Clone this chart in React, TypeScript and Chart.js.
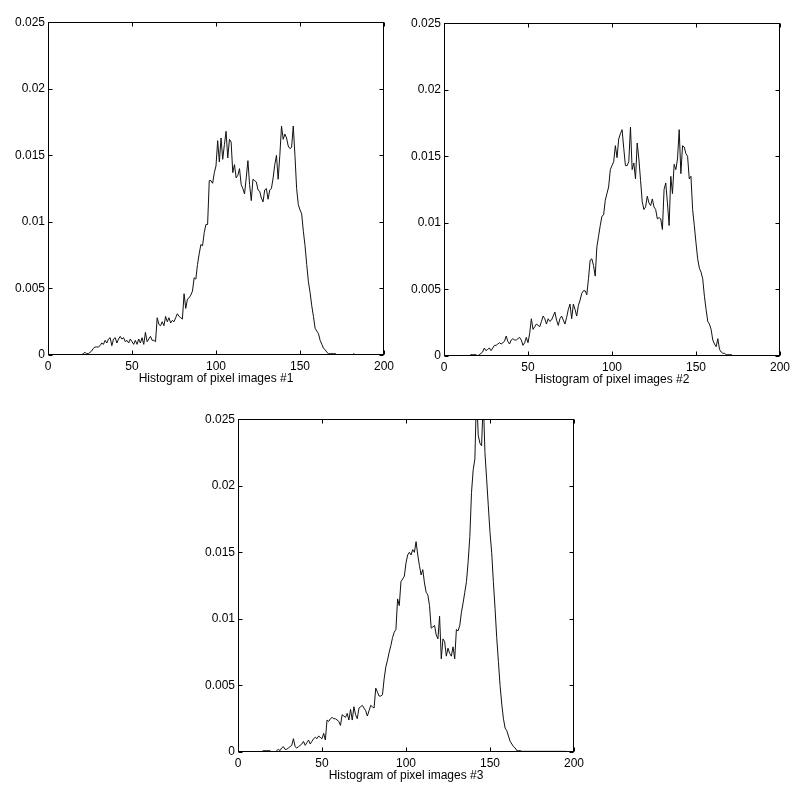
import React, { useEffect, useRef } from "react";
import { Chart, registerables } from "chart.js";
Chart.register(...registerables);

const X_TICKS = [0, 50, 100, 150, 200];
const Y_TICKS = [0, 0.005, 0.01, 0.015, 0.02, 0.025];
const X_MAX = 200;
const Y_MAX = 0.025;

const TITLES = [
  "Histogram of pixel images #1",
  "Histogram of pixel images #2",
  "Histogram of pixel images #3",
];

const hist1 = [
  0, 0, 0, 0, 0, 0, 0, 0, 0, 0,
  0, 0, 0, 0, 0, 0, 0, 0, 0, 0,
  0, 0.0001, 0.0002, 0.0001, 0.0001, 0.0002, 0.0003, 0.0005, 0.0006, 0.0006,
  0.0006, 0.0007, 0.0009, 0.0008, 0.0011, 0.0009, 0.0012, 0.0013, 0.0007, 0.0012,
  0.0013, 0.0009, 0.0012, 0.0014, 0.0012, 0.0013, 0.0010, 0.0011, 0.0009, 0.0012,
  0.0010, 0.0008, 0.0011, 0.0008, 0.0012, 0.0009, 0.0013, 0.0008, 0.0017, 0.0010,
  0.0012, 0.0014, 0.0011, 0.0011, 0.0010, 0.0028, 0.0023, 0.0022, 0.0025, 0.0022,
  0.0029, 0.0025, 0.0028, 0.0024, 0.0026, 0.0025, 0.0028, 0.0031, 0.0029, 0.0028,
  0.0027, 0.0046, 0.0035, 0.0042, 0.0043, 0.0045, 0.0048, 0.0058, 0.0057, 0.0068,
  0.0076, 0.0083, 0.0082, 0.0092, 0.0098, 0.0098, 0.0131, 0.0131, 0.0129, 0.0137,
  0.0142, 0.0161, 0.0145, 0.0163, 0.0147, 0.0158, 0.0168, 0.0148, 0.0162, 0.0160,
  0.0137, 0.0143, 0.0133, 0.0135, 0.0140, 0.0128, 0.0125, 0.0121, 0.0133, 0.0146,
  0.0128, 0.0116, 0.0132, 0.0131, 0.0130, 0.0124, 0.0123, 0.0118, 0.0115, 0.0124,
  0.0125, 0.0117, 0.0124, 0.0125, 0.0133, 0.0143, 0.0150, 0.0132, 0.0150, 0.0172,
  0.0162, 0.0166, 0.0163, 0.0157, 0.0155, 0.0156, 0.0172, 0.0150, 0.0125, 0.0113,
  0.0109, 0.0106, 0.0093, 0.0082, 0.0068, 0.0055, 0.0047, 0.0037, 0.0029, 0.0020,
  0.0018, 0.0016, 0.0011, 0.0008, 0.0005, 0.0004, 0.0002, 0.0001, 0.0001, 0.0001,
  0.0001, 0.0001, 0, 0, 0, 0, 0, 0, 0, 0,
  0, 0, 0.0001, 0, 0, 0, 0, 0, 0, 0,
  0, 0, 0, 0, 0, 0, 0, 0, 0, 0,
];

const hist2 = [
  0, 0, 0, 0, 0, 0, 0, 0, 0, 0,
  0, 0, 0, 0, 0, 0, 0.0001, 0.0001, 0.0001, 0.0001,
  0, 0.0001, 0.0002, 0.0003, 0.0006, 0.0004, 0.0005, 0.0006, 0.0004, 0.0006,
  0.0008, 0.0008, 0.0009, 0.0010, 0.0009, 0.0010, 0.0011, 0.0015, 0.0011, 0.0009,
  0.0012, 0.0013, 0.0012, 0.0012, 0.0013, 0.0014, 0.0012, 0.0008, 0.0010, 0.0014,
  0.0010, 0.0017, 0.0028, 0.0020, 0.0022, 0.0024, 0.0023, 0.0022, 0.0026, 0.0030,
  0.0028, 0.0024, 0.0028, 0.0026, 0.0027, 0.0030, 0.0033, 0.0027, 0.0023, 0.0028,
  0.0030, 0.0027, 0.0024, 0.0029, 0.0035, 0.0039, 0.0028, 0.0039, 0.0035, 0.0030,
  0.0038, 0.0042, 0.0047, 0.0049, 0.0049, 0.0046, 0.0058, 0.0072, 0.0073, 0.0068,
  0.0060, 0.0082, 0.0090, 0.0098, 0.0105, 0.0106, 0.0117, 0.0122, 0.0127, 0.0140,
  0.0143, 0.0146, 0.0158, 0.0149, 0.0163, 0.0167, 0.0170, 0.0156, 0.0143, 0.0143,
  0.0146, 0.0172, 0.0140, 0.0145, 0.0133, 0.0160, 0.0148, 0.0132, 0.0116, 0.0110,
  0.0112, 0.0120, 0.0115, 0.0113, 0.0118, 0.0112, 0.0110, 0.0103, 0.0104, 0.0103,
  0.0095, 0.0125, 0.0130, 0.0115, 0.0098, 0.0135, 0.0122, 0.0144, 0.0140, 0.0148,
  0.0170, 0.0137, 0.0158, 0.0157, 0.0152, 0.0150, 0.0133, 0.0135, 0.0110, 0.0098,
  0.0085, 0.0073, 0.0066, 0.0063, 0.0058, 0.0045, 0.0035, 0.0026, 0.0024, 0.0020,
  0.0012, 0.0009, 0.0007, 0.0013, 0.0005, 0.0003, 0.0002, 0.0002, 0.0001, 0.0001,
  0.0001, 0.0001, 0, 0, 0, 0, 0, 0, 0, 0,
  0, 0, 0, 0, 0, 0, 0, 0, 0, 0,
  0, 0, 0, 0, 0, 0, 0, 0, 0, 0,
];

const hist3 = [
  0, 0, 0, 0, 0, 0, 0, 0, 0, 0,
  0, 0, 0, 0, 0, 0.0001, 0.0001, 0.0001, 0.0001, 0.0001,
  0, 0, 0, 0.0001, 0.0002, 0.0001, 0.0003, 0.0004, 0.0002, 0.0002,
  0.0003, 0.0004, 0.0005, 0.0010, 0.0004, 0.0003, 0.0004, 0.0005, 0.0006, 0.0008,
  0.0005, 0.0007, 0.0009, 0.0006, 0.0008, 0.0010, 0.0011, 0.0010, 0.0012, 0.0011,
  0.0010, 0.0014, 0.0009, 0.0024, 0.0023, 0.0025, 0.0026, 0.0025, 0.0025, 0.0024,
  0.0023, 0.0020, 0.0028, 0.0027, 0.0026, 0.0029, 0.0024, 0.0032, 0.0024, 0.0034,
  0.0028, 0.0025, 0.0033, 0.0034, 0.0035, 0.0033, 0.0031, 0.0027, 0.0031, 0.0035,
  0.0034, 0.0033, 0.0048, 0.0045, 0.0042, 0.0042, 0.0043, 0.0055, 0.0064, 0.0069,
  0.0075, 0.0080, 0.0086, 0.0090, 0.0092, 0.0115, 0.0110, 0.0128, 0.0130, 0.0132,
  0.0142, 0.0148, 0.0150, 0.0148, 0.0152, 0.0150, 0.0158, 0.0148, 0.0140, 0.0133,
  0.0137, 0.0127, 0.0120, 0.0118, 0.0110, 0.0093, 0.0094, 0.0095, 0.0088, 0.0085,
  0.0102, 0.0070, 0.0085, 0.0083, 0.0072, 0.0078, 0.0074, 0.0072, 0.0079, 0.0070,
  0.0092, 0.0091, 0.0095, 0.0105, 0.0112, 0.0120, 0.0128, 0.0143, 0.0162, 0.0195,
  0.0212, 0.0220, 0.0270, 0.0238, 0.0232, 0.0230, 0.0265, 0.0225, 0.0205, 0.0185,
  0.0165, 0.0150, 0.0128, 0.0108, 0.0086, 0.0068, 0.0050, 0.0036, 0.0025, 0.0018,
  0.0016, 0.0012, 0.0008, 0.0006, 0.0004, 0.0003, 0.0001, 0.0001, 0.0001, 0.00005,
  0.00005, 0.00005, 0.00005, 0.00005, 0.00005, 0.00005, 0.00005, 0.00005, 0.00005, 0.00005,
  0.00005, 0.00005, 0.00005, 0.00005, 0.00005, 0.00005, 0.00005, 0.00005, 0.00005, 0.00005,
  0.00005, 0.00005, 0.00005, 0.00005, 0.00005, 0.00005, 0, 0, 0, 0,
];

const FONT = "'Liberation Sans', Arial, Helvetica, sans-serif";
const AREA_W = 336;
const AREA_H = 333;
const Y_AXIS_W = 48;
const X_AXIS_H = 31;
const PAD_T = 10;
const PAD_R = 14;

const boxPlugin = {
  id: "matlabBox",
  afterDraw(chart: any) {
    const { ctx, chartArea: a, scales } = chart;
    const L = Math.round(a.left) + 0.5;
    const R = Math.round(a.right) - 0.5;
    const T = Math.round(a.top) + 0.5;
    const B = Math.round(a.bottom) - 0.5;
    const len = 4;
    ctx.save();
    ctx.strokeStyle = "#000";
    ctx.lineWidth = 1;
    ctx.beginPath();
    X_TICKS.forEach((v) => {
      const px = Math.round(scales.x.getPixelForValue(v)) + 0.5;
      ctx.moveTo(px, B);
      ctx.lineTo(px, B - len);
      ctx.moveTo(px, T);
      ctx.lineTo(px, T + len);
    });
    Y_TICKS.forEach((v) => {
      const py = Math.round(scales.y.getPixelForValue(v)) + 0.5;
      ctx.moveTo(L, py);
      ctx.lineTo(L + len, py);
      ctx.moveTo(R, py);
      ctx.lineTo(R - len, py);
    });
    ctx.stroke();
    ctx.strokeRect(L, T, R - L, B - T);
    ctx.restore();
  },
};

function fmt(v: number) {
  return String(Number(v.toFixed(4)));
}

function HistPlot({ values, title, left, top }: { values: number[]; title: string; left: number; top: number }) {
  const ref = useRef<HTMLCanvasElement>(null);
  const width = Y_AXIS_W + AREA_W + PAD_R;
  const height = PAD_T + AREA_H + X_AXIS_H;
  useEffect(() => {
    if (!ref.current) return;
    const chart = new Chart(ref.current, {
      type: "line",
      data: {
        datasets: [
          {
            data: values.map((v, i) => ({ x: i, y: v })),
            borderColor: "#111",
            borderWidth: 1,
            pointRadius: 0,
            tension: 0,
            fill: false,
            clip: 0,
          } as any,
        ],
      },
      options: {
        animation: false,
        responsive: false,
        devicePixelRatio: 1,
        events: [],
        layout: { autoPadding: false, padding: { top: PAD_T, right: PAD_R, left: 0, bottom: 0 } },
        plugins: { legend: { display: false }, tooltip: { enabled: false }, title: { display: false } },
        scales: {
          x: {
            type: "linear",
            min: 0,
            max: X_MAX,
            grid: { display: false, drawTicks: false },
            border: { display: false },
            afterBuildTicks: (s: any) => {
              s.ticks = X_TICKS.map((v) => ({ value: v }));
            },
            afterFit: (s: any) => {
              s.height = X_AXIS_H;
            },
            ticks: {
              padding: 4,
              maxRotation: 0,
              autoSkip: false,
              color: "#000",
              font: { family: FONT, size: 12 },
              callback: (v: any) => fmt(Number(v)),
            },
            title: {
              display: true,
              text: title,
              color: "#000",
              font: { family: FONT, size: 12 },
              padding: { top: 0, bottom: 0 },
            },
          },
          y: {
            type: "linear",
            min: 0,
            max: Y_MAX,
            grid: { display: false, drawTicks: false },
            border: { display: false },
            afterBuildTicks: (s: any) => {
              s.ticks = Y_TICKS.map((v) => ({ value: v }));
            },
            afterFit: (s: any) => {
              s.width = Y_AXIS_W;
            },
            ticks: {
              padding: 3,
              autoSkip: false,
              color: "#000",
              font: { family: FONT, size: 12 },
              callback: (v: any) => fmt(Number(v)),
            },
          },
        },
      } as any,
      plugins: [boxPlugin],
    });
    return () => chart.destroy();
  }, [values, title]);
  return (
    <canvas
      ref={ref}
      width={width}
      height={height}
      style={{ position: "absolute", left: left - Y_AXIS_W, top: top - PAD_T, width, height }}
    />
  );
}

export default function App() {
  return (
    <div style={{ position: "absolute", left: 0, top: 0, width: 800, height: 794, background: "#fff", overflow: "hidden" }}>
      <HistPlot values={hist1} title={TITLES[0]} left={48} top={22} />
      <HistPlot values={hist2} title={TITLES[1]} left={444} top={23} />
      <HistPlot values={hist3} title={TITLES[2]} left={238} top={419} />
    </div>
  );
}
